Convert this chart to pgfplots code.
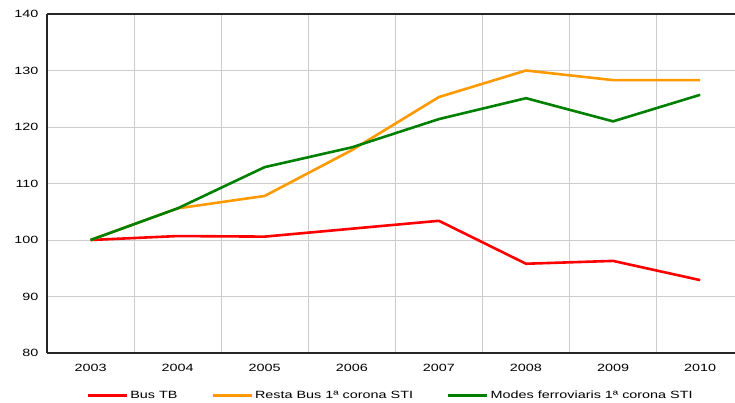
\documentclass[border=0pt]{standalone}
\usepackage{pgfplots}
\pgfplotsset{compat=1.18}
\usepackage{fontspec}
\setmainfont{Liberation Sans}
\newfontfamily\widefont[FakeStretch=1.37]{Liberation Sans}
\definecolor{cred}{RGB}{255,0,0}
\definecolor{corange}{RGB}{255,153,0}
\definecolor{cgreen}{RGB}{0,128,0}
\definecolor{cgrid}{RGB}{204,204,204}
\begin{document}
\begin{tikzpicture}
\begin{axis}[
  scale only axis,
  width=688pt, height=339pt,
  xmin=-0.5, xmax=7.4,
  ymin=80, ymax=140,
  ytick={80,90,...,140},
  xtick={0,...,7},
  xticklabels={2003,2004,2005,2006,2007,2008,2009,2010},
  minor xtick={0.5,1.5,...,6.5},
  xminorgrids=true, ymajorgrids=true,
  grid style={cgrid, line width=1pt},
  minor grid style={cgrid, line width=1pt},
  major tick length=0pt, minor tick length=0pt,
  axis x line*=box, axis y line*=left,
  axis line style={black!85, line width=1.3pt, -},
  tick label style={font=\widefont\fontsize{10.5}{12}\selectfont},
  /pgf/number format/assume math mode=true,
  xticklabel style={yshift=-8pt},
  yticklabel style={xshift=-5pt},
  legend style={draw=none, at={(0.4995,-0.126)}, anchor=center, legend columns=3,
    font=\widefont\fontsize{10.5}{12}\selectfont, /tikz/every even column/.append style={column sep=32pt},
    inner sep=0pt},
  legend image code/.code={\draw[#1] (0pt,0pt) -- (39pt,0pt);},
  every axis plot/.append style={line width=2.6pt, line join=round},
]
\addplot[cred] coordinates {(0,100) (1,100.7) (2,100.6) (3,102) (4,103.4) (5,95.8) (6,96.3) (7,92.9)};
\addlegendentry{Bus TB}
\addplot[corange] coordinates {(0,100) (1,105.6) (2,107.8) (3,115.9) (4,125.3) (5,130) (6,128.3) (7,128.3)};
\addlegendentry{Resta Bus 1ª corona STI}
\addplot[cgreen] coordinates {(0,100) (1,105.6) (2,112.9) (3,116.4) (4,121.4) (5,125.1) (6,121) (7,125.7)};
\addlegendentry{Modes ferroviaris 1ª corona STI}
\coordinate (o) at (rel axis cs:0,0);
\end{axis}
\pgfresetboundingbox
\path (o) ++(-47pt,-49pt) rectangle ++(735pt,402pt);
\end{tikzpicture}
\end{document}
